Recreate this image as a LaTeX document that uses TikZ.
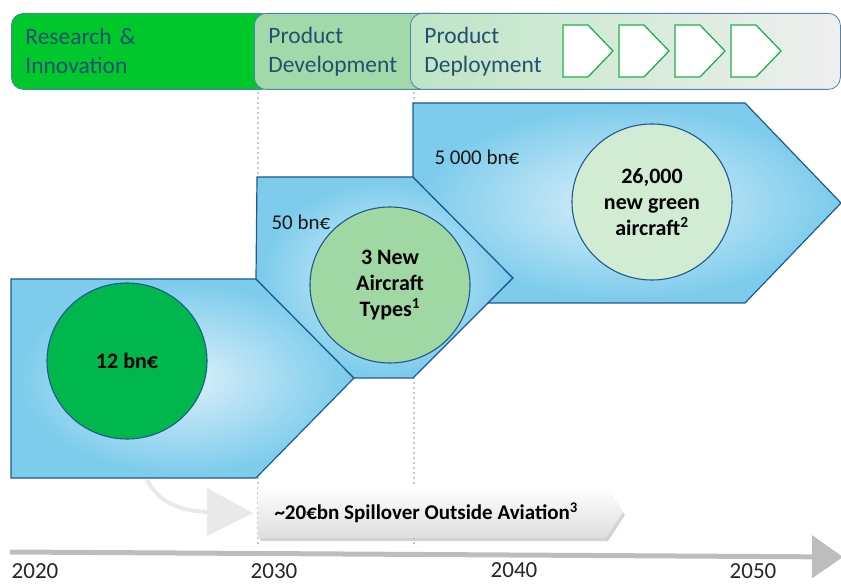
\documentclass[tikz,border=0pt]{standalone}
\usepackage{fontspec}
\setmainfont{Carlito}
\usepackage{xcolor}
\usetikzlibrary{shapes.geometric,shadows,arrows.meta}

\definecolor{rigreen}{HTML}{00C72C}
\definecolor{pdgreen}{HTML}{A2D9AA}
\definecolor{dpgreen}{HTML}{BEE5C6}
\definecolor{dpgray}{HTML}{EFEFEF}
\definecolor{barline}{HTML}{4F84A8}
\definecolor{bartext}{HTML}{24506E}
\definecolor{chevgreen}{HTML}{1DB24C}
\definecolor{edgeblue}{HTML}{1E5A8E}
\definecolor{glowin}{HTML}{DDF0FA}
\definecolor{glowmid}{HTML}{7DCCEC}
\definecolor{glowrim}{HTML}{A9DDF2}
\definecolor{bubA}{HTML}{00B74E}
\definecolor{bubB}{HTML}{A0D8A4}
\definecolor{bubC}{HTML}{D1ECD3}
\definecolor{axisgray}{HTML}{BDBDBD}
\definecolor{dotgray}{HTML}{C8C8C8}
\definecolor{spillgray}{HTML}{E9E9E9}

\pgfdeclareradialshading{glow}{\pgfpoint{0bp}{0bp}}{%
  color(0bp)=(glowin); color(24bp)=(glowmid); color(42bp)=(glowmid);
  color(50bp)=(glowrim); color(70bp)=(glowrim)}

\tikzset{
  phase/.style={draw=barline, line width=0.8pt, rounded corners=12pt, anchor=north west,
    minimum height=76pt, inner xsep=14pt, align=left, text=bartext,
    font=\fontsize{23.5}{29}\selectfont},
  stage/.style={draw=edgeblue, line width=1.2pt, shading=glow},
  bubble/.style={ellipse, draw=edgeblue, line width=1.1pt, minimum width=160pt,
    minimum height=156pt, align=center, font=\fontsize{22}{26}\selectfont\bfseries},
  amount/.style={anchor=west, font=\fontsize{21}{24}\selectfont, text=black!90},
  year/.style={inner sep=0pt, font=\fontsize{23}{26}\selectfont, text=black!85},
  chev/.style={draw=chevgreen, line width=1.3pt, fill=white}
}

\begin{document}
\begin{tikzpicture}[x=1pt,y=-1pt]
  \useasboundingbox (0,0) rectangle (841,585);

  % phase bar
  \node (ri) [phase, fill=rigreen, minimum width=262pt, text width=234pt] at (11,13) {Research \&\\Innovation};
  \node (pd) [phase, fill=pdgreen, minimum width=200pt, text width=172pt] at (254,13) {Product\\Development};
  \node (dp) [phase, left color=dpgreen, right color=dpgray, minimum width=430pt, text width=402pt] at (410,13) {Product\\Deployment};
  \foreach \x in {563,619,675,731}
    \draw[chev] (\x,25) -- ++(25,0) -- ++(25,26) -- ++(-25,26) -- ++(-25,0) -- cycle;

  % decade markers
  \draw[dotgray, line width=2pt, dash pattern=on 2pt off 3pt] (258,92) -- (258,545);
  \draw[dotgray, line width=2pt, dash pattern=on 2pt off 3pt] (414,92) -- (414,545);

  % investment stages
  \path[stage] (11,279) -- (256,279) -- (354,378) -- (256,478) -- (11,478) -- cycle;
  \path[stage] (257,177) -- (413,177) -- (513,278) -- (413,378) -- (354,378) -- (256,279) -- cycle;
  \path[stage] (413,103) -- (745,103) -- (841,203) -- (745,303) -- (488,303) -- (513,278) -- (413,177) -- cycle;

  \node (b1) [bubble, fill=bubA] at (127,361) {12 bn€};
  \node (b2) [bubble, fill=bubB] at (390,285) {3 New\\Aircraft\\Types\textsuperscript{1}};
  \node (b3) [bubble, fill=bubC] at (652,202) {26,000\\new green\\aircraft\textsuperscript{2}};

  \node (m2) [amount] at (268,222) {50 bn€};
  \node (m3) [amount] at (431,157) {5 000 bn€};

  % spillover
  \draw[spillgray, line width=4pt] (147,480) .. controls (160,505) and (185,512) .. (212,512);
  \fill[spillgray] (207,488) -- (253,513) -- (207,536) -- cycle;
  \path[top color=white, bottom color=black!13, drop shadow={opacity=0.35, shadow xshift=2pt, shadow yshift=-3pt}]
    (258,487) -- (606,487) -- (623,512) -- (606,538) -- (258,538) -- cycle;
  \node (sp) [anchor=west, font=\fontsize{21}{24}\selectfont\bfseries] at (271,513) {\textasciitilde20€bn Spillover Outside Aviation\textsuperscript{3}};

  % time axis
  \coordinate (t0) at (10,552);
  \coordinate (t1) at (843,557);
  \draw[axisgray, line width=5pt, -{Triangle[length=31pt,width=42pt]}] (t0) -- (t1);
  \node (y20) [year] at (35,571) {2020};
  \node (y30) [year] at (274,571) {2030};
  \node (y40) [year] at (514,570) {2040};
  \node (y50) [year] at (753,571) {2050};
\end{tikzpicture}
\end{document}
